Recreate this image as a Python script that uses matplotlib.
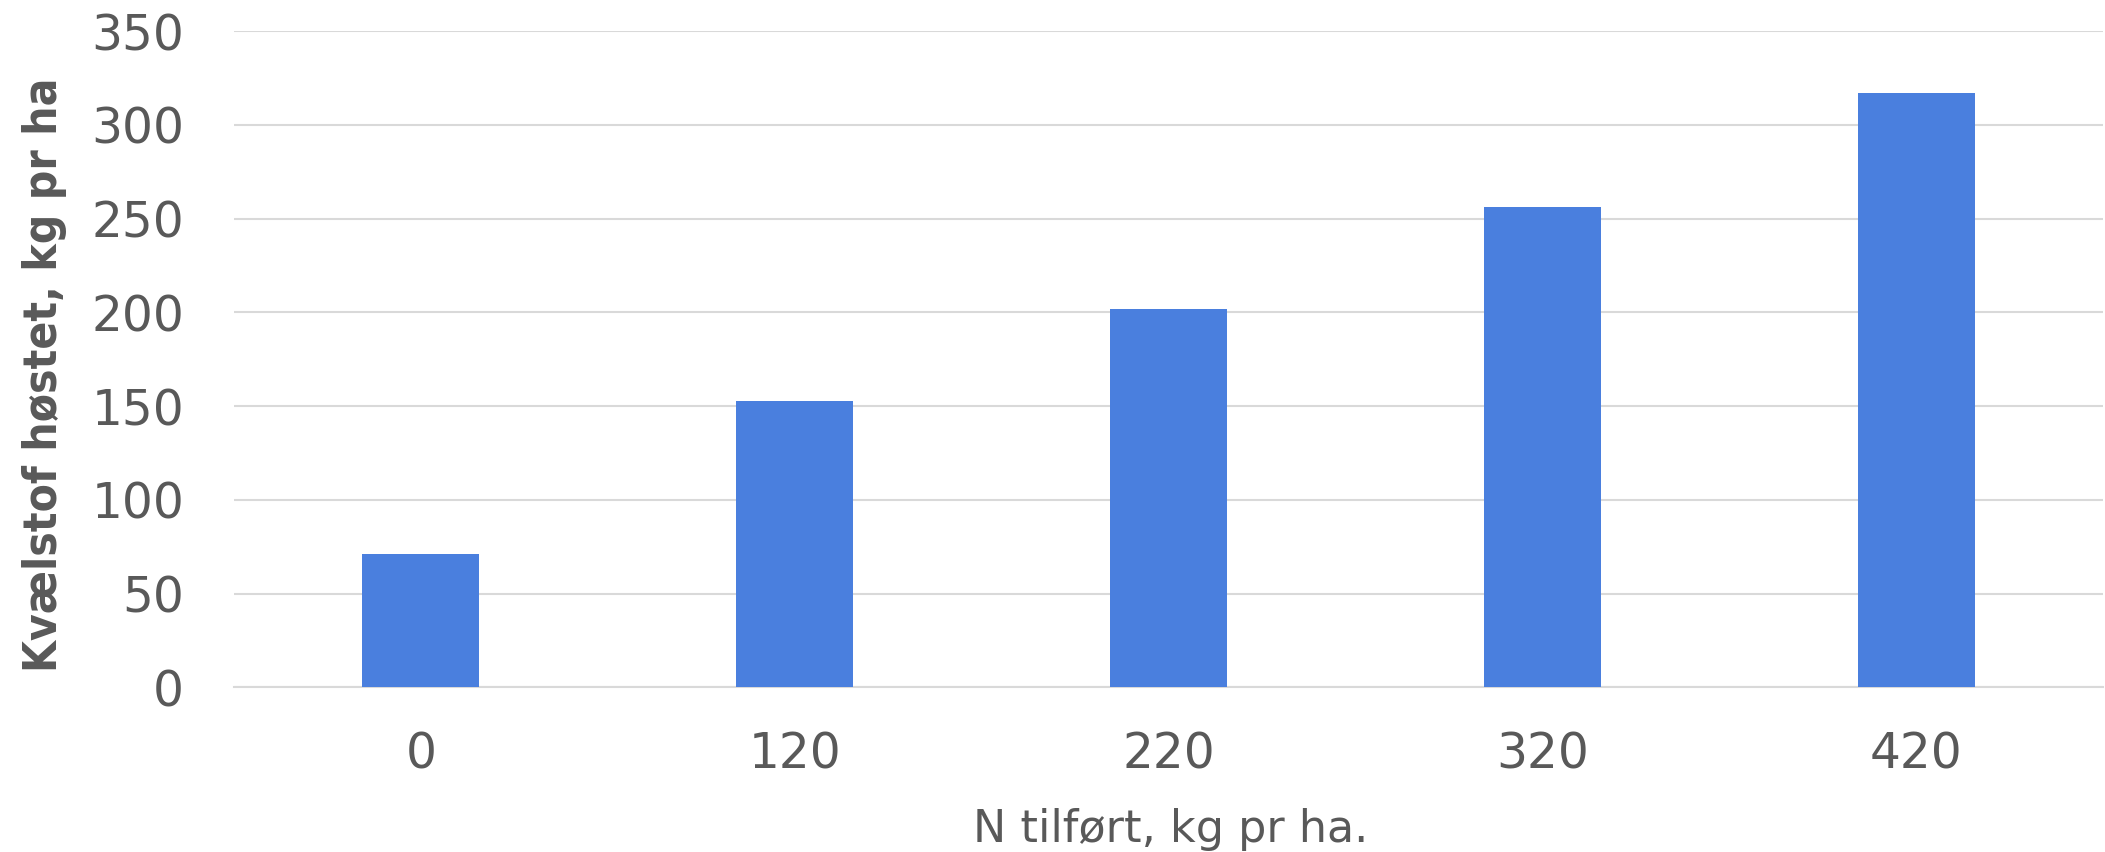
import matplotlib
matplotlib.use('Agg')
import matplotlib.pyplot as plt
import numpy as np

# data
n_added = ['0', '120', '220', '320', '420']
n_harvested = [71, 153, 202, 256, 317]
y_ticks = [0, 50, 100, 150, 200, 250, 300, 350]

grey = '#595959'
grid = '#d9d9d9'
bar_color = '#4a7fde'

fig = plt.figure(figsize=(21.05, 8.52), dpi=100)
ax = fig.add_axes([0.1112, 0.1933, 0.8878, 0.7700])

x = np.arange(len(n_added))
ax.bar(x, n_harvested, width=0.313, color=bar_color, zorder=3)

ax.set_xlim(-0.5, len(n_added) - 0.5)
ax.set_ylim(0, 350)
ax.set_yticks(y_ticks)
ax.set_xticks(x)
ax.set_xticklabels(n_added)

ax.yaxis.grid(True, color=grid, linewidth=1.5, zorder=0)
for s in ['top', 'right', 'left']:
    ax.spines[s].set_visible(False)
ax.spines['bottom'].set_color(grid)
ax.spines['bottom'].set_linewidth(1.5)

ax.tick_params(axis='both', length=0, labelsize=35, labelcolor=grey)
ax.tick_params(axis='y', pad=36)
ax.tick_params(axis='x', pad=31)

fig.text(0.556, 0.0117, 'N tilført, kg pr ha.', ha='center', va='baseline',
         fontsize=32, color=grey)
fig.text(0.021, 0.56, 'Kvælstof høstet, kg pr ha', rotation=90, ha='center', va='center',
         fontsize=33, fontweight='bold', color=grey,
         family=['DejaVu Sans Condensed', 'Liberation Sans Narrow', 'DejaVu Sans'],
         fontstretch='condensed')

fig.savefig('out.png', dpi=100)
